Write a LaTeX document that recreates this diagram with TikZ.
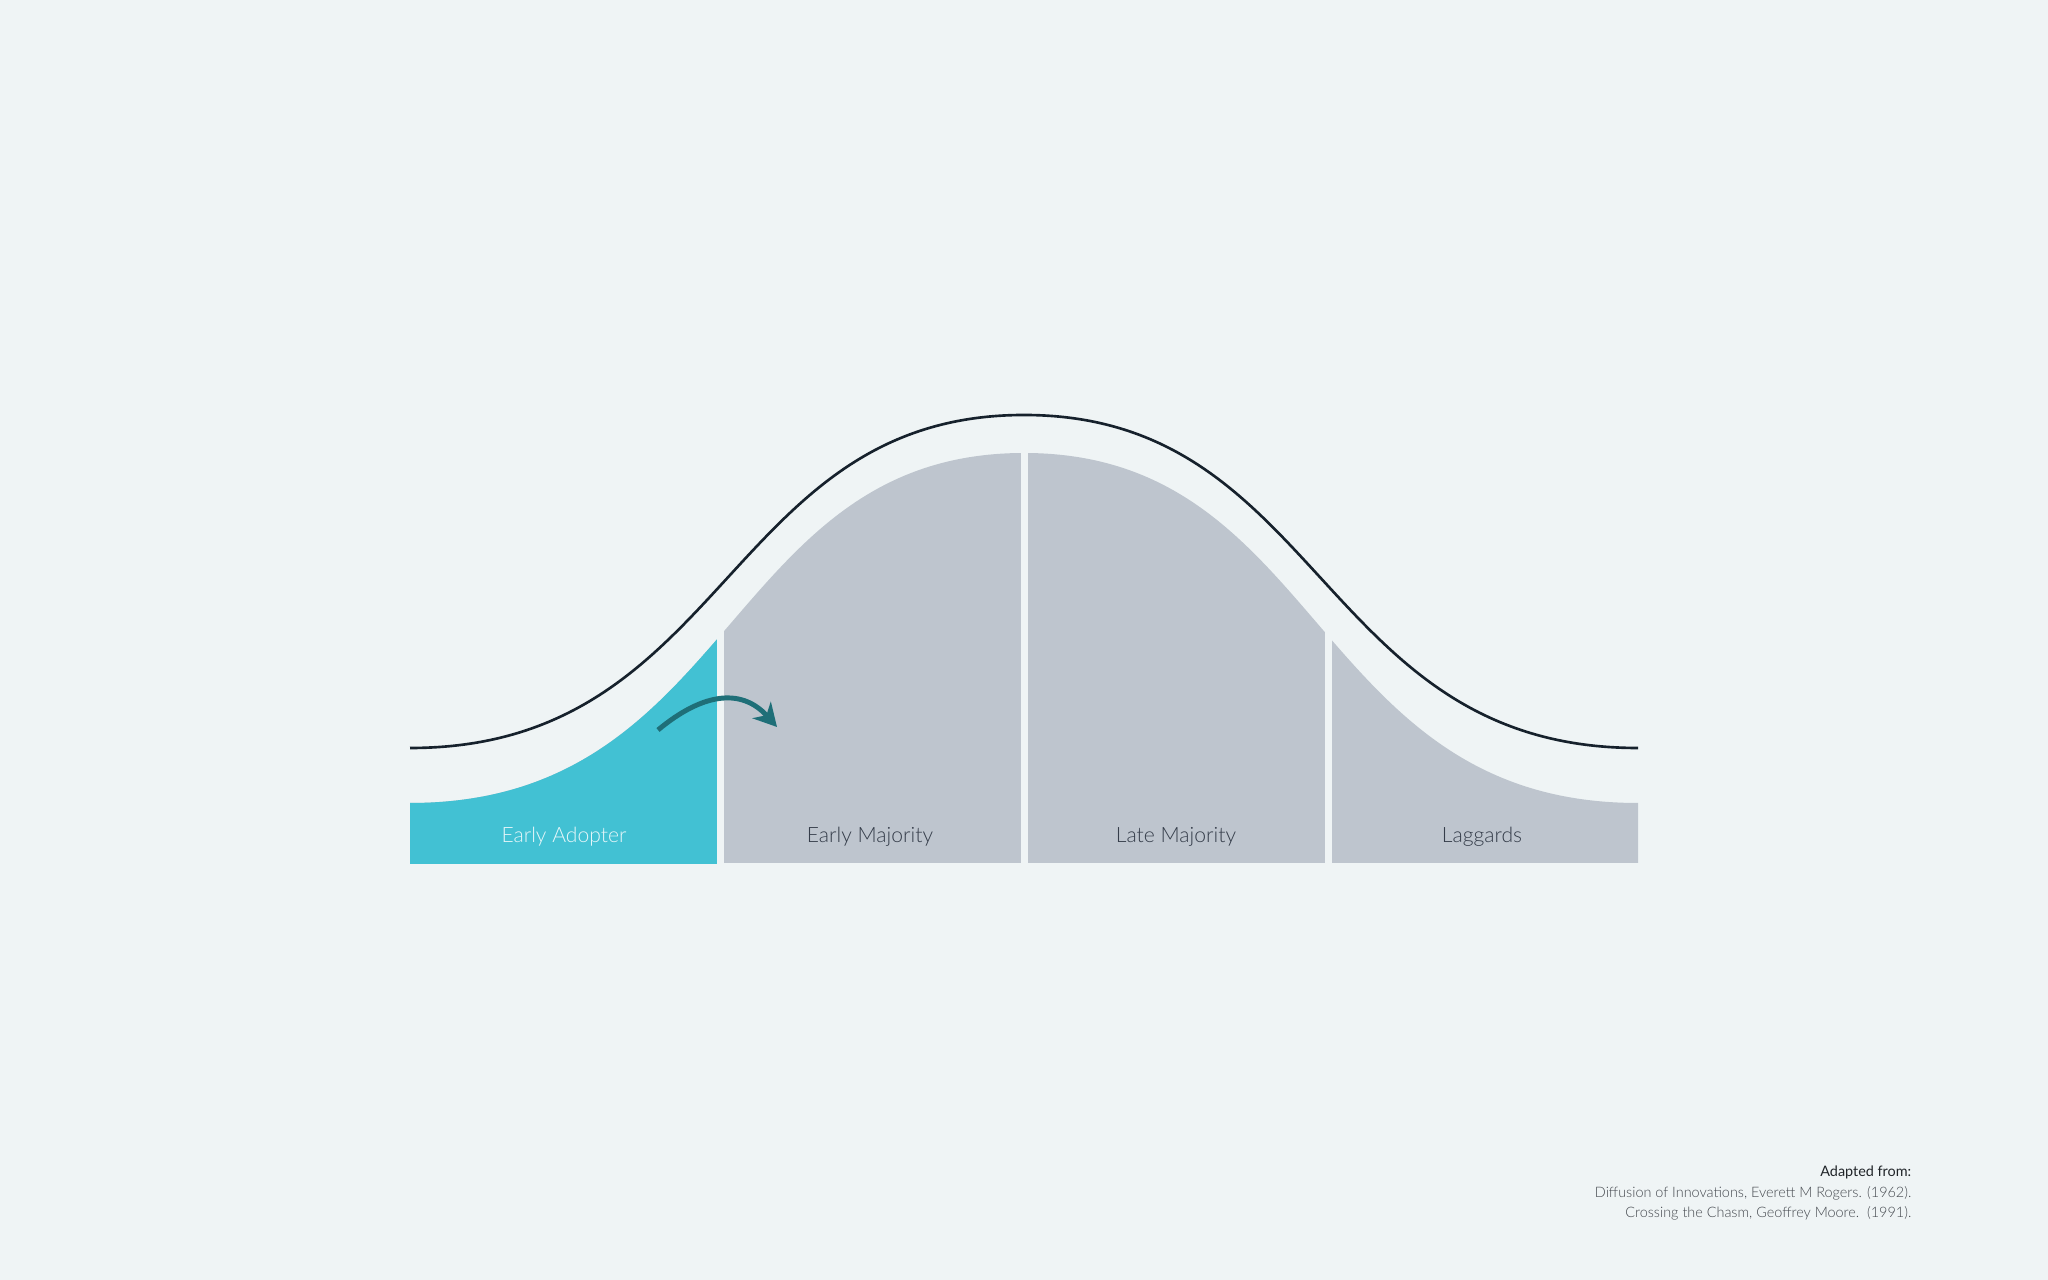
\documentclass[tikz,border=0pt]{standalone}
\usepackage{fontspec}
\setmainfont{Lato}[UprightFont={* Light},BoldFont={*}]
\newfontfamily\latoreg{Lato}
\usetikzlibrary{arrows.meta}
\definecolor{bg}{HTML}{EFF4F5}
\definecolor{grayfill}{HTML}{BEC5CE}
\definecolor{cyanfill}{HTML}{42C1D3}
\definecolor{curveline}{HTML}{16212C}
\definecolor{arrowteal}{HTML}{1F6F78}
\definecolor{labeldark}{HTML}{353D4A}
\definecolor{labellight}{HTML}{E6F6F9}
\definecolor{credgray}{HTML}{44484E}
\definecolor{creddark}{HTML}{202428}
\tikzset{
  seglabel/.style={anchor=base, inner sep=0pt, font=\fontsize{6}{7}\selectfont},
  credit/.style={anchor=base east, inner sep=0pt, font=\fontsize{4.1}{5}\selectfont},
  gapbar/.style={fill=bg, draw=none},
}
\def\fillshape{(410,863) -- (410,803) .. controls (736,803) and (724,453) .. (1024,453) .. controls (1324,453) and (1312,803) .. (1638,803) -- (1638,863) -- cycle}
\begin{document}
\begin{tikzpicture}[x=0.01cm,y=-0.01cm]
\fill[bg] (0,0) rectangle (2048,1280);
\useasboundingbox (0,0) rectangle (2048,1280);
% filled bell
\fill[grayfill] \fillshape;
\begin{scope}
  \clip (0,0) rectangle (720,1280);
  \fill[cyanfill] (410,864) -- (410,803) .. controls (736,803) and (724,453) .. (1024,453) -- (1024,864) -- cycle;
\end{scope}
% gaps
\fill[gapbar] (717,400) rectangle (724,870);
\fill[gapbar] (1020.5,400) rectangle (1027.5,870);
\fill[gapbar] (1325,400) rectangle (1332,870);
% outline curve
\draw[curveline, line width=0.75pt] (410,748) .. controls (728,748) and (725,415) .. (1024,415) .. controls (1323,415) and (1320,748) .. (1638,748);
% arrow
\coordinate (arrs) at (658,730);
\coordinate (arre) at (777,727);
\draw[arrowteal, line width=1.4pt, -{Stealth[length=6.5pt,width=7pt,inset=2pt]}] (arrs) .. controls (700,695) and (740,686) .. (arre);
% labels
\node[seglabel, text=labellight] (ea) at (564,843) {Early Adopter};
\node[seglabel, text=labeldark] (em) at (870,843) {Early Majority};
\node[seglabel, text=labeldark] (lm) at (1176,843) {Late Majority};
\node[seglabel, text=labeldark] (lg) at (1482,843) {Laggards};
% credits
\node[credit, text=creddark, font=\fontsize{4.1}{5}\selectfont\latoreg] (c1) at (1912,1177) {Adapted from:};
\node[credit, text=credgray] (c2) at (1912,1198) {Diffusion of Innovations, Everett M Rogers. (1962).};
\node[credit, text=credgray] (c3) at (1912,1218) {Crossing the Chasm, Geoffrey Moore.\ \ (1991).};
\end{tikzpicture}
\end{document}
